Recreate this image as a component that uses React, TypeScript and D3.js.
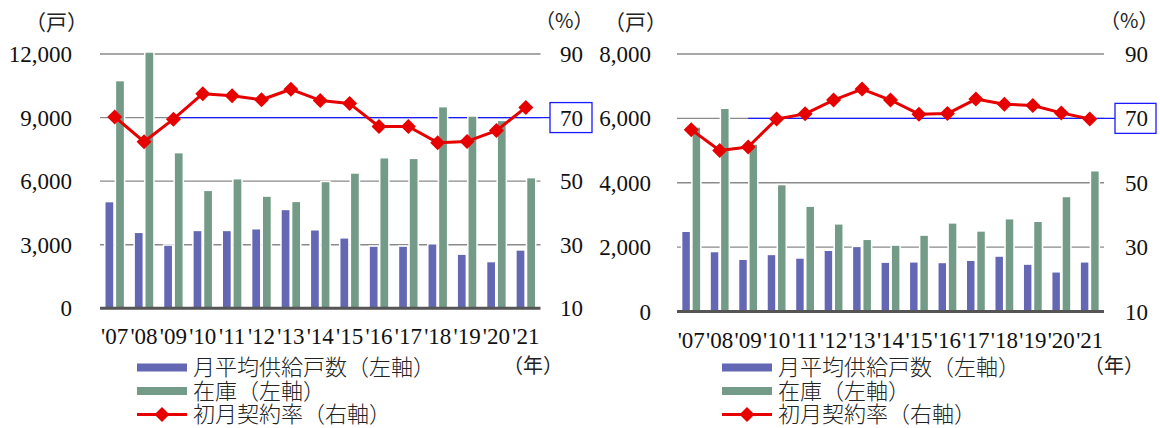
import React from "react";
import * as d3 from "d3";

// Fiscal years shown on the category axis
const years = ["'07", "'08", "'09", "'10", "'11", "'12", "'13", "'14", "'15", "'16", "'17", "'18", "'19", "'20", "'21"];

// Left panel: monthly average supply, inventory (units), first-month contract rate (%)
const supplyA = [5000, 3550, 2950, 3640, 3640, 3720, 4630, 3670, 3290, 2900, 2900, 3010, 2520, 2170, 2720];
const stockA = [10710, 12060, 7310, 5530, 6080, 5260, 5010, 5950, 6350, 7070, 7040, 9480, 9040, 8830, 6130];
const rateA = [70.2, 62.4, 69.5, 77.5, 76.9, 75.6, 78.9, 75.4, 74.4, 67.2, 67.2, 62.1, 62.5, 65.9, 73.2];
const leftTicksA = [0, 3000, 6000, 9000, 12000];

// Right panel
const supplyB = [2470, 1840, 1600, 1750, 1640, 1880, 2000, 1510, 1520, 1500, 1570, 1700, 1450, 1210, 1520];
const stockB = [5710, 6290, 5180, 3920, 3250, 2700, 2220, 2040, 2350, 2730, 2480, 2860, 2780, 3550, 4350];
const rateB = [66.5, 60.0, 61.1, 69.8, 71.4, 75.7, 79.1, 75.7, 71.3, 71.5, 76.0, 74.4, 74.0, 71.7, 69.8];
const leftTicksB = [0, 2000, 4000, 6000, 8000];

const rightTicks = [10, 30, 50, 70, 90];
const benchmark = 70;

const legendLabels = ["月平均供給戸数（左軸）", "在庫（左軸）", "初月契約率（右軸）"];

const BLUE = "#6467b4";
const GREEN = "#739b88";
const RED = "#e60000";
const GRID = "#8a8a8a";
const NUM_FONT = "'Liberation Serif', 'DejaVu Serif', serif";
const CJK_FONT = "'Noto Sans CJK JP', 'Noto Sans', sans-serif";

type PanelProps = {
  supply: number[];
  stock: number[];
  rate: number[];
  leftTicks: number[];
  x0: number;
  x1: number;
  yTop: number;
  yBottom: number;
  leftLabelX: number;
  rightLabelX: number;
  boxX0: number;
  boxX1: number;
  legendX: number;
  yearX: number;
};

function Diamond({ cx, cy, r }: { cx: number; cy: number; r: number }) {
  return <path d={`M${cx},${cy - r}L${cx + r},${cy}L${cx},${cy + r}L${cx - r},${cy}Z`} fill={RED} />;
}

function Panel(p: PanelProps) {
  const x = d3.scaleBand<string>().domain(years).range([p.x0, p.x1]).padding(0);
  const yL = d3.scaleLinear().domain([0, d3.max(p.leftTicks)!]).range([p.yBottom, p.yTop]);
  const yR = d3.scaleLinear().domain([10, 90]).range([p.yBottom, p.yTop]);
  const bw = x.bandwidth();
  const barW = bw * 0.262;
  const gap = bw * 0.1;
  const cx = (i: number) => x(years[i])! + bw / 2;
  const line = d3
    .line<number>()
    .x((_, i) => cx(i))
    .y((d) => yR(d));
  const fmt = d3.format(",");
  const benchY = yR(benchmark);
  const rowY = [367.5, 391, 414.5];

  return (
    <g>
      {/* horizontal grid */}
      {p.leftTicks
        .filter((t) => t > 0)
        .map((t) => (
          <line key={t} x1={p.x0} x2={p.x1} y1={yL(t)} y2={yL(t)} stroke={GRID} strokeWidth={1.4} />
        ))}
      {/* benchmark line at 70% */}
      <line x1={cx(2)} x2={p.boxX0} y1={benchY} y2={benchY} stroke="#1a1aff" strokeWidth={1.2} />
      {/* bars with white halo */}
      {years.map((yr, i) => (
        <g key={yr}>
          <rect
            x={cx(i) - gap / 2 - barW}
            y={yL(p.supply[i])}
            width={barW}
            height={p.yBottom - yL(p.supply[i])}
            fill={BLUE}
            stroke="#fff"
            strokeWidth={3}
            paintOrder="stroke"
          />
          <rect
            x={cx(i) + gap / 2}
            y={yL(p.stock[i])}
            width={barW}
            height={p.yBottom - yL(p.stock[i])}
            fill={GREEN}
            stroke="#fff"
            strokeWidth={3}
            paintOrder="stroke"
          />
        </g>
      ))}
      {/* baseline */}
      <line x1={p.x0} x2={p.x1} y1={p.yBottom} y2={p.yBottom} stroke="#555" strokeWidth={3} />
      {/* contract rate */}
      <path d={line(p.rate)!} fill="none" stroke={RED} strokeWidth={3} strokeLinejoin="round" />
      {p.rate.map((v, i) => (
        <Diamond key={i} cx={cx(i)} cy={yR(v)} r={7.5} />
      ))}
      {/* left axis labels */}
      {p.leftTicks.map((t) => (
        <text
          key={t}
          x={p.leftLabelX}
          y={yL(t)}
          dy="0.35em"
          textAnchor="end"
          fontFamily={NUM_FONT}
          fontSize={23}
          fill="#111"
        >
          {fmt(t)}
        </text>
      ))}
      {/* right axis labels */}
      <rect
        x={p.boxX0}
        y={benchY - 15}
        width={p.boxX1 - p.boxX0}
        height={30}
        fill="#fff"
        stroke="#1a1aff"
        strokeWidth={1.3}
      />
      {rightTicks.map((t) => (
        <text
          key={t}
          x={p.rightLabelX}
          y={yR(t)}
          dy="0.35em"
          textAnchor="start"
          fontFamily={NUM_FONT}
          fontSize={23}
          fill="#111"
        >
          {t}
        </text>
      ))}
      {/* unit labels */}
      <text x={p.leftLabelX + 16} y={23} textAnchor="end" dy="0.35em" fontFamily={CJK_FONT} fontSize={21} fill="#222">
        （戸）
      </text>
      <text x={p.rightLabelX - 25} y={21} dy="0.35em" fontFamily={CJK_FONT} fontSize={20} fill="#222">
        （%）
      </text>
      {/* category labels */}
      {years.map((yr, i) => (
        <text
          key={yr}
          x={cx(i)}
          y={p.yBottom + 36}
          textAnchor="middle"
          fontFamily={NUM_FONT}
          fontSize={23}
          fill="#111"
        >
          {yr}
        </text>
      ))}
      <text x={p.yearX} y={366} dy="0.35em" fontFamily={CJK_FONT} fontSize={20} fill="#222">
        （年）
      </text>
      {/* legend */}
      <rect x={p.legendX} y={rowY[0] - 4} width={50} height={8} fill={BLUE} />
      <rect x={p.legendX} y={rowY[1] - 4} width={50} height={8} fill={GREEN} />
      <line x1={p.legendX} x2={p.legendX + 50} y1={rowY[2]} y2={rowY[2]} stroke={RED} strokeWidth={3} />
      <Diamond cx={p.legendX + 25} cy={rowY[2]} r={7.5} />
      {legendLabels.map((s, i) => (
        <text
          key={s}
          x={p.legendX + 56}
          y={rowY[i]}
          dy="0.36em"
          fontFamily={CJK_FONT}
          fontSize={22}
          fontWeight={300}
          fill="#222"
        >
          {s}
        </text>
      ))}
    </g>
  );
}

export default function App() {
  return (
    <svg
      width={1160}
      height={428}
      viewBox="0 0 1160 428"
      style={{ position: "absolute", left: 0, top: 0, background: "#fff" }}
    >
      <rect width={1160} height={428} fill="#fff" />
      <Panel
        supply={supplyA}
        stock={stockA}
        rate={rateA}
        leftTicks={leftTicksA}
        x0={100}
        x1={540.5}
        yTop={54}
        yBottom={308.3}
        leftLabelX={72}
        rightLabelX={560}
        boxX0={550}
        boxX1={592}
        legendX={137}
        yearX={503}
      />
      <Panel
        supply={supplyB}
        stock={stockB}
        rate={rateB}
        leftTicks={leftTicksB}
        x0={677}
        x1={1104}
        yTop={54}
        yBottom={311.5}
        leftLabelX={651}
        rightLabelX={1125}
        boxX0={1115}
        boxX1={1156}
        legendX={722}
        yearX={1084}
      />
    </svg>
  );
}
